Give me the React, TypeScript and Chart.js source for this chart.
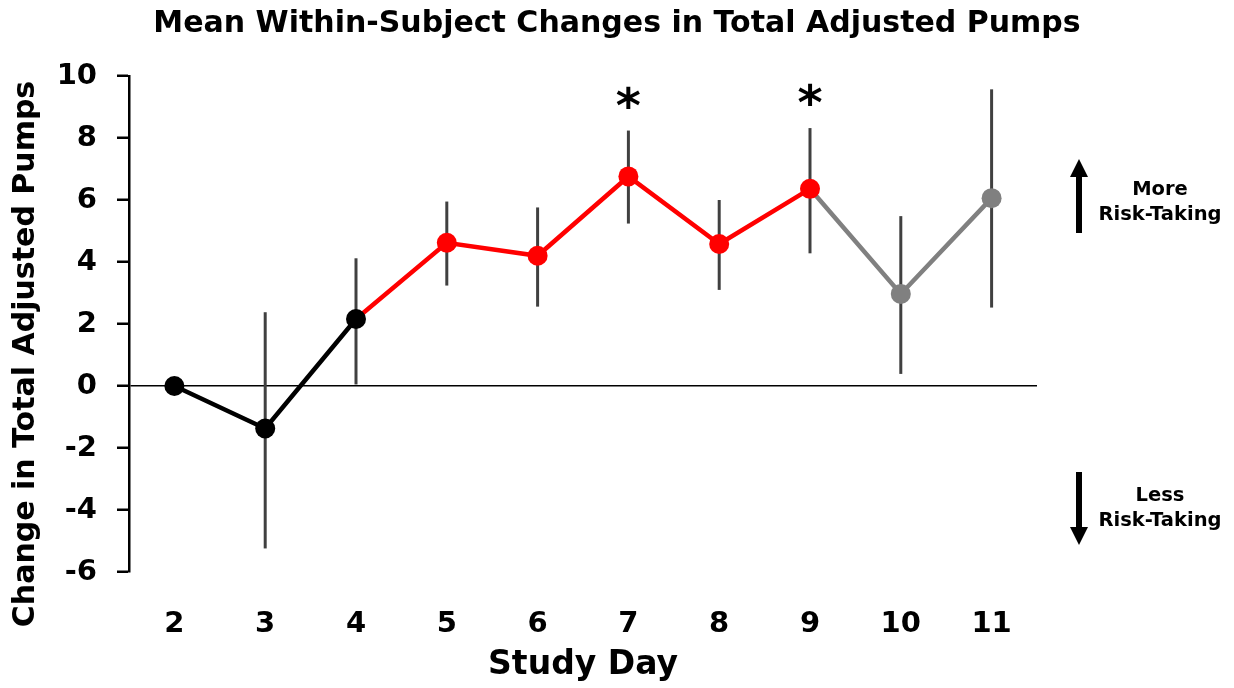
import { useEffect, useRef } from "react";
import { Chart, registerables } from "chart.js";

Chart.register(...registerables);

// Study days on the x axis
const studyDays = ["2", "3", "4", "5", "6", "7", "8", "9", "10", "11"];
// Mean within-subject change in total adjusted pumps
const meanChange = [0, -1.37, 2.16, 4.62, 4.2, 6.76, 4.58, 6.36, 2.97, 6.06];
// Error bar ends
const errorUpper: (number | null)[] = [null, 2.38, 4.12, 5.95, 5.76, 8.24, 6.0, 8.32, 5.48, 9.57];
const errorLower: (number | null)[] = [null, -5.24, 0.05, 3.24, 2.56, 5.24, 3.1, 4.28, 0.39, 2.53];
// Study phase of each day (sets the colour of points and of the segment leading into them)
const dayPhase = ["pre", "pre", "pre", "active", "active", "active", "active", "active", "post", "post"];
// Days marked as significant
const significantDays = ["7", "9"];
// Y axis range
const yMin = -6;
const yMax = 10;
const yStep = 2;

const TITLE = "Mean Within-Subject Changes in Total Adjusted Pumps";
const Y_TITLE = "Change in Total Adjusted Pumps";
const X_TITLE = "Study Day";

const FONT = '"DejaVu Sans", "Liberation Sans", sans-serif';
const phaseColor: Record<string, string> = {
  pre: "#000000",
  active: "#ff0000",
  post: "#808080",
};

const errorBarPlugin = {
  id: "errorBars",
  beforeDatasetsDraw(chart: any) {
    const x = chart.scales.x;
    const y = chart.scales.y;
    const ctx = chart.ctx;
    ctx.save();
    ctx.strokeStyle = "#404040";
    ctx.lineWidth = 3;
    studyDays.forEach((_, i) => {
      const hi = errorUpper[i];
      const lo = errorLower[i];
      if (hi == null || lo == null) return;
      const px = x.getPixelForValue(i);
      ctx.beginPath();
      ctx.moveTo(px, y.getPixelForValue(hi));
      ctx.lineTo(px, y.getPixelForValue(lo));
      ctx.stroke();
    });
    ctx.restore();
  },
};

const annotationPlugin = {
  id: "annotations",
  afterDraw(chart: any) {
    const ctx = chart.ctx;
    const x = chart.scales.x;
    const y = chart.scales.y;
    const area = chart.chartArea;
    ctx.save();
    ctx.fillStyle = "#000";

    // significance asterisks above the error bars
    ctx.font = `bold 48px ${FONT}`;
    ctx.textAlign = "center";
    ctx.textBaseline = "alphabetic";
    significantDays.forEach((d) => {
      const i = studyDays.indexOf(d);
      const top = errorUpper[i] ?? meanChange[i];
      ctx.fillText("*", x.getPixelForValue(i), y.getPixelForValue(top) - 9);
    });

    // rotated y axis title
    ctx.save();
    ctx.translate(26, 354);
    ctx.rotate(-Math.PI / 2);
    ctx.font = `bold 30px ${FONT}`;
    ctx.textAlign = "center";
    ctx.textBaseline = "middle";
    ctx.fillText(Y_TITLE, 0, 0);
    ctx.restore();

    // direction arrows and labels on the right
    const ax = area.right + 42;
    const tx = area.right + 123;
    const drawArrow = (yTail: number, yTip: number) => {
      const dir = yTip < yTail ? -1 : 1;
      const head = 18;
      const headBase = yTip - dir * head;
      ctx.fillRect(ax - 3, Math.min(yTail, headBase), 6, Math.abs(headBase - yTail) + 1);
      ctx.beginPath();
      ctx.moveTo(ax, yTip);
      ctx.lineTo(ax - 9, headBase);
      ctx.lineTo(ax + 9, headBase);
      ctx.closePath();
      ctx.fill();
    };
    drawArrow(232, 159);
    drawArrow(472, 545);

    ctx.font = `bold 19.5px ${FONT}`;
    ctx.textAlign = "center";
    ctx.textBaseline = "middle";
    ctx.fillText("More", tx, 190);
    ctx.fillText("Risk-Taking", tx, 215);
    ctx.fillText("Less", tx, 496);
    ctx.fillText("Risk-Taking", tx, 521);
    ctx.restore();
  },
};

export default function App() {
  const canvasRef = useRef<HTMLCanvasElement | null>(null);

  useEffect(() => {
    if (!canvasRef.current) return;
    const pointColors = dayPhase.map((p) => phaseColor[p]);
    const chart = new Chart(canvasRef.current, {
      type: "line",
      data: {
        labels: studyDays,
        datasets: [
          {
            data: meanChange,
            borderColor: "#000",
            borderWidth: 4.5,
            pointRadius: 10,
            pointHoverRadius: 10,
            pointBorderWidth: 0,
            pointBackgroundColor: pointColors,
            pointBorderColor: pointColors,
            segment: {
              borderColor: (c: any) => phaseColor[dayPhase[c.p1DataIndex]],
            },
            tension: 0,
          },
        ],
      },
      options: {
        responsive: false,
        animation: false,
        events: [],
        layout: { padding: 0 },
        plugins: {
          legend: { display: false },
          tooltip: { enabled: false },
          title: {
            display: true,
            text: TITLE,
            color: "#000",
            font: { family: FONT, size: 30, weight: "bold" },
            padding: { top: 6, bottom: 34 },
          },
        },
        scales: {
          x: {
            type: "category",
            offset: true,
            grid: { display: false },
            border: { display: false },
            ticks: {
              color: "#000",
              font: { family: FONT, size: 29, weight: "bold" },
              padding: 27,
              maxRotation: 0,
              autoSkip: false,
            },
            title: {
              display: true,
              text: X_TITLE,
              color: "#000",
              font: { family: FONT, size: 33, weight: "bold" },
              padding: { top: 0, bottom: 3 },
            },
            afterFit: (s: any) => {
              s.height = 116;
            },
          },
          y: {
            min: yMin,
            max: yMax,
            ticks: {
              stepSize: yStep,
              color: "#000",
              font: { family: FONT, size: 29, weight: "bold" },
              padding: 20,
            },
            grid: {
              color: (c: any) => (c.tick && c.tick.value === 0 ? "#000" : "rgba(0,0,0,0)"),
              lineWidth: 1.5,
              tickColor: "#000",
              tickWidth: 2.5,
              tickLength: 12,
              drawOnChartArea: true,
            },
            border: { display: true, color: "#000", width: 2.5 },
            afterFit: (s: any) => {
              s.width = 129;
            },
          },
          side: {
            type: "linear",
            position: "right",
            display: true,
            grid: { display: false },
            border: { display: false },
            ticks: { display: false },
            afterFit: (s: any) => {
              s.width = 197;
            },
          },
        },
      } as any,
      plugins: [errorBarPlugin, annotationPlugin],
    });
    return () => chart.destroy();
  }, []);

  return (
    <div style={{ position: "fixed", left: 0, top: 0, width: 1234, height: 688, background: "#fff" }}>
      <canvas ref={canvasRef} width={1234} height={688} style={{ width: 1234, height: 688 }} />
    </div>
  );
}
